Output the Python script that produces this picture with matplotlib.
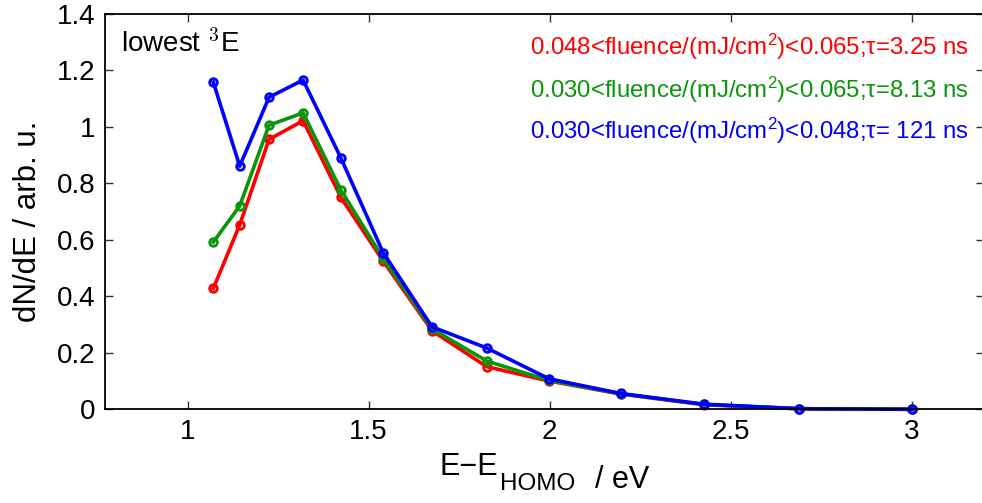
import matplotlib
matplotlib.use("Agg")
import matplotlib.pyplot as plt

plt.rcParams['font.family'] = ['Liberation Sans', 'DejaVu Sans']
plt.rcParams['mathtext.fontset'] = 'custom'
plt.rcParams['mathtext.rm'] = 'Liberation Sans'
plt.rcParams['mathtext.it'] = 'Liberation Sans:italic'
plt.rcParams['mathtext.bf'] = 'Liberation Sans:bold'

# Energy bins (eV) and spectra dN/dE (arb. u.)
energy = [1.071, 1.144, 1.225, 1.319, 1.423, 1.540, 1.675, 1.826, 1.998, 2.196, 2.426, 2.689, 3.0]
dnde_high = [0.428, 0.653, 0.956, 1.022, 0.751, 0.525, 0.278, 0.151, 0.100, 0.054, 0.016, 0.002, 0.0]
dnde_mid = [0.592, 0.720, 1.006, 1.050, 0.777, 0.535, 0.285, 0.171, 0.102, 0.055, 0.017, 0.002, 0.0]
dnde_low = [1.159, 0.861, 1.105, 1.166, 0.891, 0.555, 0.292, 0.217, 0.108, 0.056, 0.018, 0.002, 0.0]

labels = [
    r"0.048<fluence/(mJ/cm$^2$)<0.065;τ=3.25 ns",
    r"0.030<fluence/(mJ/cm$^2$)<0.065;τ=8.13 ns",
    r"0.030<fluence/(mJ/cm$^2$)<0.048;τ= 121 ns",
]
colors = ['#ff0000', '#0a960a', '#0000ff']
series = [dnde_high, dnde_mid, dnde_low]

x_ticks = [1, 1.5, 2, 2.5, 3]
y_ticks = [0, 0.2, 0.4, 0.6, 0.8, 1.0, 1.2, 1.4]
y_tick_labels = ['0', '0.2', '0.4', '0.6', '0.8', '1', '1.2', '1.4']

fig = plt.figure(figsize=(9.82, 5.03), dpi=100)
ax = fig.add_axes([0.1069, 0.1863, 0.8955, 0.7859])

for vals, c in zip(series, colors):
    ax.plot(energy, vals, '-o', color=c, lw=2.6, ms=5.5, mfc='none', mew=2, clip_on=False)

ax.set_xlim(0.772, 3.2)
ax.set_ylim(0, 1.4)
ax.set_xticks(x_ticks)
ax.set_xticklabels([f"{t:g}" for t in x_ticks])
ax.set_yticks(y_ticks)
ax.set_yticklabels(y_tick_labels)
ax.tick_params(direction='in', length=6, width=1, color='#333333', labelsize=20,
               top=True, right=True, pad=7)
for s in ax.spines.values():
    s.set_linewidth(1.3)

# x label built from pieces so the subscript keeps a large size
xl_main = fig.text(440 / 982, 1 - 475 / 503, "E−E", fontsize=22, ha='left', va='baseline')
xl_sub = ax.annotate("HOMO", xy=(1, 0), xycoords=xl_main, xytext=(1, -6),
                     textcoords='offset points', fontsize=17.5, ha='left', va='baseline')
ax.annotate("  / eV", xy=(1, 6 / 17.5), xycoords=xl_sub, xytext=(2, 0),
            textcoords='offset points', fontsize=22, ha='left', va='baseline')

ax.set_ylabel("dN/dE / arb. u.", fontsize=22.5)
ax.yaxis.set_label_coords(-0.071, 0.475)

ax.text(0.018, 0.925, r"lowest $^{3}$E", transform=ax.transAxes, fontsize=20,
        ha='left', va='center', math_fontfamily='cm')

ys = [0.9165, 0.8077, 0.704]
for lab, c, y in zip(labels, colors, ys):
    ax.text(0.983, y, lab, transform=ax.transAxes, color=c, fontsize=17.3,
            ha='right', va='center')

fig.savefig("out.png", dpi=100)
